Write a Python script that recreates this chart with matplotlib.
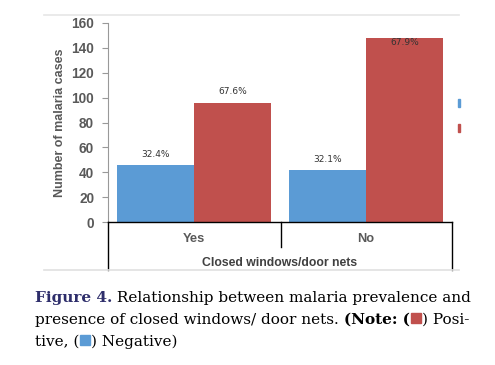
import matplotlib
matplotlib.use("Agg")
import matplotlib.pyplot as plt
from matplotlib.transforms import blended_transform_factory
from matplotlib.lines import Line2D
from matplotlib.patches import Rectangle
import numpy as np

categories = ["Yes", "No"]
negative = [46, 42]
positive = [96, 148]
neg_labels = ["32.4%", "32.1%"]
pos_labels = ["67.6%", "67.9%"]
yticks = [0, 20, 40, 60, 80, 100, 120, 140, 160]

W, H = 495, 365
fig = plt.figure(figsize=(W / 100, H / 100), dpi=100)

def fx(x):
    return x / W

def fy(y):
    return 1 - y / H

BLUE = "#5B9BD5"
RED = "#C0504D"
GRAY = "#595959"

ax = fig.add_axes([fx(108), fy(222), fx(452) - fx(108), fy(23) - fy(222)])
x = np.arange(len(categories))
w = 0.45
ax.bar(x - w / 2, negative, w, color=BLUE, edgecolor="none")
ax.bar(x + w / 2, positive, w, color=RED, edgecolor="none")
ax.set_xlim(-0.5, 1.5)
ax.set_ylim(0, 160)
ax.set_yticks(yticks)
ax.set_yticklabels([str(t) for t in yticks], fontsize=9.8, fontweight="bold",
                   color=GRAY, family="Liberation Sans")
ax.tick_params(axis="y", length=4, color="#999999", pad=6)
ax.set_xticks([])
for s in ["top", "right"]:
    ax.spines[s].set_visible(False)
ax.spines["left"].set_color("#999999")
ax.spines["bottom"].set_color("black")
ax.spines["bottom"].set_linewidth(1.0)
ax.set_ylabel("Number of malaria cases", fontsize=9, fontweight="bold",
              color=GRAY, family="Liberation Sans", labelpad=4)

for i in range(len(categories)):
    ax.text(x[i] - w / 2, negative[i] + 5, neg_labels[i], ha="center", va="bottom",
            fontsize=6.5, color="#333333")
    ax.text(x[i] + w / 2, positive[i] + 5 if i == 0 else positive[i] - 4, pos_labels[i],
            ha="center", va="bottom" if i == 0 else "center",
            fontsize=6.5, color="#333333")

tr = blended_transform_factory(ax.transData, fig.transFigure)
for i, c in enumerate(categories):
    fig.text(x[i], fy(239), c, transform=tr, ha="center", va="center",
             fontsize=9.3, fontweight="bold", color=GRAY, family="Liberation Sans")
fig.text(fx(280), fy(263), "Closed windows/door nets", ha="center", va="center",
         fontsize=8.8, fontweight="bold", color="#404040", family="Liberation Sans")

def line(x0, y0, x1, y1, color="black", lw=1.0):
    fig.add_artist(Line2D([fx(x0), fx(x1)], [fy(y0), fy(y1)], color=color,
                          lw=lw, transform=fig.transFigure))

line(108, 222, 108, 270)
line(281, 222, 281, 247)
line(452, 222, 452, 270)
line(44, 15, 459, 15, color="#e6e6e6", lw=1.2)
line(44, 270, 459, 270, color="#e0e0e0", lw=1.2)

# clipped legend marks
fig.add_artist(Rectangle((fx(457.5), fy(107)), fx(2), fy(99) - fy(107), color=BLUE,
                         transform=fig.transFigure))
fig.add_artist(Rectangle((fx(457.5), fy(132)), fx(2), fy(124) - fy(132), color=RED,
                         transform=fig.transFigure))

# caption
fig.canvas.draw()
renderer = fig.canvas.get_renderer()
SERIF = "DejaVu Serif"
FS = 11

def seq(parts, x0, y):
    xc = x0
    for kind, content, style in parts:
        if kind == "text":
            t = fig.text(fx(xc), fy(y), content, ha="left", va="baseline",
                         fontsize=FS, family=SERIF, **style)
            bb = t.get_window_extent(renderer)
            xc += bb.width
        else:
            fig.add_artist(Rectangle((fx(xc + 1), fy(y - 1)), fx(10), fy(y - 11) - fy(y - 1),
                                     color=content, transform=fig.transFigure))
            xc += 12

seq([("text", "Figure 4.", dict(fontweight="bold", color="#2e2e6b")),
     ("text", " Relationship between malaria prevalence and", dict(color="black"))], 35, 302)
seq([("text", "presence of closed windows/ door nets. ", dict(color="black")),
     ("text", "(Note: (", dict(fontweight="bold", color="black")),
     ("box", RED, None),
     ("text", ") Posi-", dict(color="black"))], 35, 324)
seq([("text", "tive, (", dict(color="black")),
     ("box", BLUE, None),
     ("text", ") Negative)", dict(color="black"))], 35, 346)

fig.savefig("out.png", dpi=100)
